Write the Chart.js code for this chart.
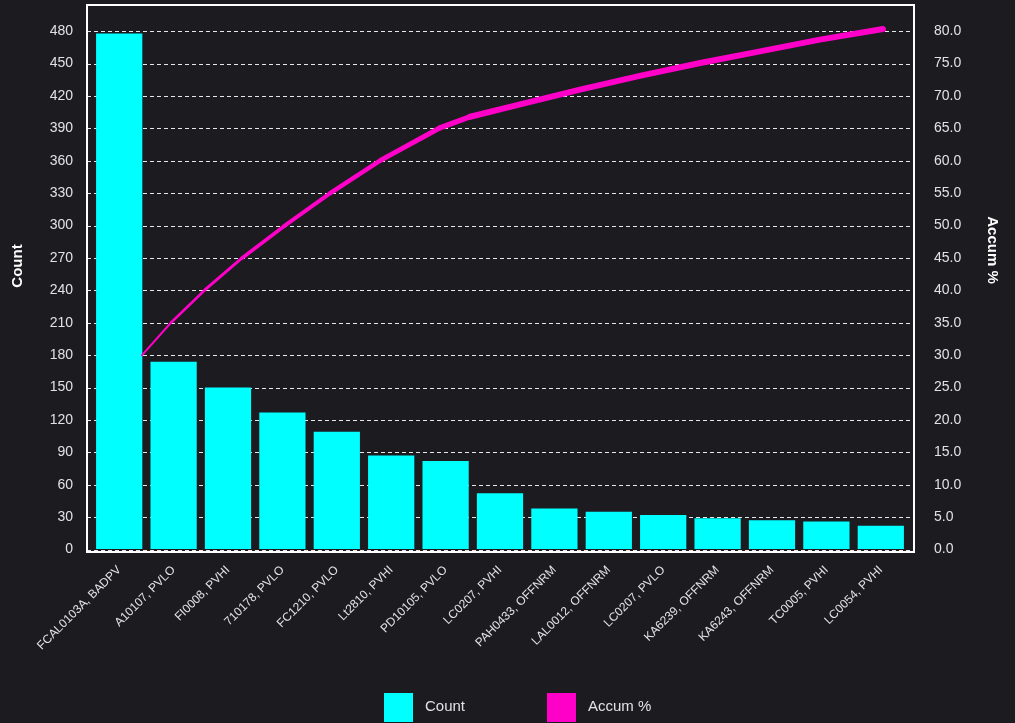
<!DOCTYPE html>
<html>
<head>
<meta charset="utf-8">
<script src="https://cdn.jsdelivr.net/npm/chart.js@4.4.1/dist/chart.umd.min.js"></script>
<style>
  html, body { margin: 0; padding: 0; background: #1c1b20; }
  #wrap { width: 1015px; height: 723px; }
</style>
</head>
<body>
<div id="wrap"><canvas id="paretoChart" width="1015" height="723"></canvas></div>
<script>
// Pareto data
const categories = [
  'FCAL0103A, BADPV', 'A10107, PVLO', 'FI0008, PVHI', '710178, PVLO', 'FC1210, PVLO',
  'Lt2810, PVHI', 'PD10105, PVLO', 'LC0207, PVHI', 'PAH0433, OFFNRM', 'LAL0012, OFFNRM',
  'LC0207, PVLO', 'KA6239, OFFNRM', 'KA6243, OFFNRM', 'TC0005, PVHI', 'LC0054, PVHI'
];
const counts = [478, 174, 150, 127, 109, 87, 82, 52, 38, 35, 32, 29, 27, 26, 22];

// accumulated % line, x given in category index units
const accumX = [0.42, 0.95, 1.58, 2.26, 3.03, 3.88, 4.81, 5.9, 6.45, 7.37, 8.47, 9.57, 10.68, 11.78, 12.88, 14.04];
const accumPct = [30.0, 35.0, 40.1, 45.0, 49.9, 55.0, 60.1, 65.1, 66.8, 68.7, 71.0, 73.1, 75.1, 76.9, 78.7, 80.35];

const countTicks = [0, 30, 60, 90, 120, 150, 180, 210, 240, 270, 300, 330, 360, 390, 420, 450, 480];
const pctTicks = [0, 5, 10, 15, 20, 25, 30, 35, 40, 45, 50, 55, 60, 65, 70, 75, 80];

const countMin = -2.3;
const countMax = 504.3;

const textColor = '#e2e2e2';
const cyan = '#00ffff';
const magenta = '#ff00c8';
const fontFamily = '"Liberation Sans", Arial, sans-serif';

// dashed grid, frame, axis titles and legend
const paretoFrame = {
  id: 'paretoFrame',
  beforeDatasetsDraw(chart) {
    const { ctx, chartArea, scales } = chart;
    ctx.save();
    ctx.strokeStyle = '#e8e8e8';
    ctx.lineWidth = 1;
    ctx.setLineDash([4, 3]);
    countTicks.forEach(v => {
      const y = Math.round(scales.y.getPixelForValue(v)) + 0.5;
      ctx.beginPath();
      ctx.moveTo(chartArea.left - 5, y);
      ctx.lineTo(chartArea.right + 6, y);
      ctx.stroke();
    });
    ctx.restore();
  },
  afterDatasetsDraw(chart) {
    const { ctx, chartArea } = chart;
    ctx.save();
    ctx.strokeStyle = '#ffffff';
    ctx.lineWidth = 2;
    ctx.strokeRect(chartArea.left - 5, chartArea.top, chartArea.right - chartArea.left + 11, chartArea.bottom - chartArea.top);
    ctx.restore();
  },
  afterDraw(chart) {
    const ctx = chart.ctx;
    ctx.save();
    // axis titles
    ctx.fillStyle = '#ffffff';
    ctx.font = 'bold 15px ' + fontFamily;
    ctx.textAlign = 'center';
    ctx.textBaseline = 'middle';
    ctx.save();
    ctx.translate(18, 266);
    ctx.rotate(-Math.PI / 2);
    ctx.fillText('Count', 0, 0);
    ctx.restore();
    ctx.save();
    ctx.translate(992, 250);
    ctx.rotate(Math.PI / 2);
    ctx.fillText('Accum %', 0, 0);
    ctx.restore();

    // legend
    const items = [
      { x: 384, ds: chart.data.datasets[0], color: cyan },
      { x: 547, ds: chart.data.datasets[1], color: magenta }
    ];
    ctx.font = '15px ' + fontFamily;
    ctx.textAlign = 'left';
    items.forEach(it => {
      ctx.fillStyle = it.color;
      ctx.fillRect(it.x, 693, 29, 29);
      ctx.fillStyle = textColor;
      ctx.fillText(it.ds.label, it.x + 41, 707);
    });
    ctx.restore();
  }
};

const ctx = document.getElementById('paretoChart').getContext('2d');
new Chart(ctx, {
  data: {
    labels: categories,
    datasets: [
      {
        type: 'bar',
        label: 'Count',
        data: counts,
        backgroundColor: cyan,
        borderWidth: 0,
        grouped: false,
        barPercentage: 0.85,
        categoryPercentage: 1.0,
        yAxisID: 'y',
        xAxisID: 'x',
        order: 1
      },
      {
        type: 'line',
        label: 'Accum %',
        data: accumX.map((x, i) => ({ x: x, y: accumPct[i] })),
        borderColor: magenta,
        backgroundColor: magenta,
        pointRadius: 0,
        tension: 0,
        borderCapStyle: 'round',
        borderJoinStyle: 'round',
        segment: {
          borderWidth: c => Math.min(6, 2 + c.p0DataIndex * 0.5)
        },
        yAxisID: 'yPct',
        xAxisID: 'xLine',
        order: 0
      }
    ]
  },
  options: {
    responsive: false,
    animation: false,
    layout: { padding: { top: 5, left: 0, right: 0, bottom: 0 } },
    plugins: {
      legend: { display: false },
      tooltip: { enabled: false }
    },
    scales: {
      x: {
        type: 'category',
        offset: true,
        grid: { display: false },
        border: { display: false },
        ticks: {
          color: textColor,
          font: { size: 12, family: fontFamily },
          autoSkip: false,
          maxRotation: 45,
          minRotation: 45,
          padding: 3
        },
        afterFit: s => { s.height = 171; }
      },
      xLine: {
        type: 'linear',
        display: false,
        min: -0.5,
        max: 14.5
      },
      y: {
        position: 'left',
        min: countMin,
        max: countMax,
        grid: { display: true, drawOnChartArea: false, drawTicks: true, tickLength: 19, tickColor: 'rgba(0,0,0,0)' },
        border: { display: false },
        afterBuildTicks: s => { s.ticks = countTicks.map(v => ({ value: v })); },
        ticks: {
          color: textColor,
          padding: 0,
          font: { size: 14, family: fontFamily, lineHeight: 0.7 }
        },
        afterFit: s => { s.width = 92; }
      },
      yPct: {
        position: 'right',
        min: countMin / 6,
        max: countMax / 6,
        grid: { display: true, drawOnChartArea: false, drawTicks: true, tickLength: 26, tickColor: 'rgba(0,0,0,0)' },
        border: { display: false },
        afterBuildTicks: s => { s.ticks = pctTicks.map(v => ({ value: v })); },
        ticks: {
          color: textColor,
          padding: 0,
          font: { size: 14, family: fontFamily, lineHeight: 0.7 },
          callback: v => Number(v).toFixed(1)
        },
        afterFit: s => { s.width = 107; }
      }
    }
  },
  plugins: [paretoFrame]
});
</script>
</body>
</html>
